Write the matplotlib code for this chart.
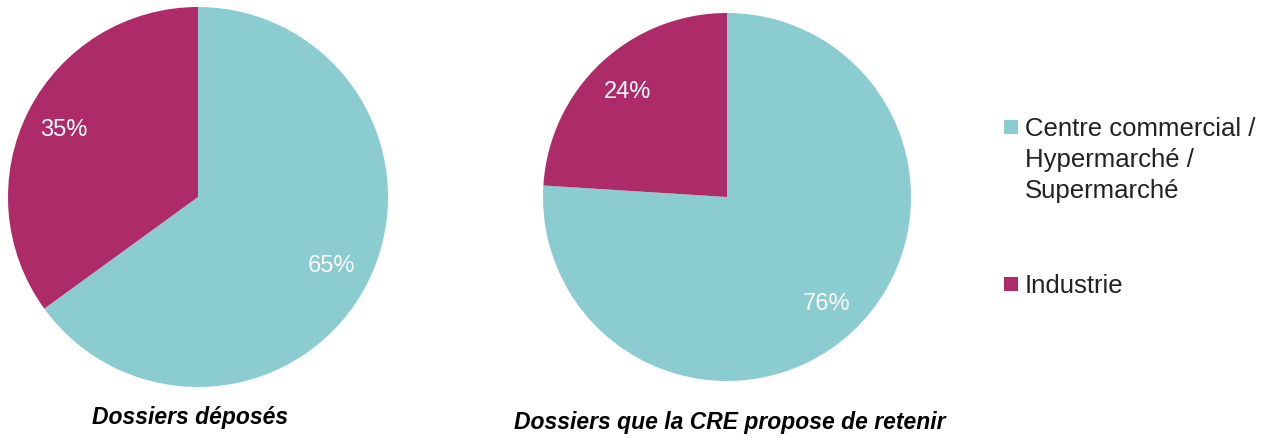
import matplotlib
matplotlib.use("Agg")
import matplotlib.pyplot as plt
from matplotlib.patches import Rectangle

# data
categories = ["Centre commercial /\nHypermarché /\nSupermarché", "Industrie"]
deposes = [65, 35]
retenus = [76, 24]
titles = ["Dossiers déposés", "Dossiers que la CRE propose de retenir"]
colors = ["#8ACCD0", "#AE2B6A"]

W, H = 1274, 439
fig = plt.figure(figsize=(W / 100, H / 100), dpi=100)
sans = ["Liberation Sans", "DejaVu Sans"]

def pie_axes(cx, cy, r):
    return fig.add_axes([(cx - r) / W, (H - cy - r) / H, 2 * r / W, 2 * r / H])

ax1 = pie_axes(198, 198, 190)
ax2 = pie_axes(727, 198, 184)

for ax, vals in [(ax1, deposes), (ax2, retenus)]:
    w, _, autotexts = ax.pie(vals, colors=colors, startangle=90, counterclock=False,
                             autopct="%d%%", pctdistance=0.79, radius=1,
                             wedgeprops=dict(linewidth=0))
    for t in autotexts:
        t.set_color("white")
        t.set_fontsize(17)
        t.set_family(sans)
    ax.set_xlim(-1, 1)
    ax.set_ylim(-1, 1)
    ax.axis("off")

title_font = dict(fontsize=16.5, fontweight="bold", style="italic",
                  family=["Liberation Sans Narrow", "Liberation Sans", "DejaVu Sans"])
fig.text(190 / W, 1 - 418 / H, titles[0], ha="center", va="center", **title_font)
fig.text(730 / W, 1 - 423 / H, titles[1], ha="center", va="center", **title_font)

# legend drawn by hand so the square sits on the first line
leg_y = [128, 285]
for lab, col, y in zip(categories, colors, leg_y):
    fig.patches.append(Rectangle((1004 / W, 1 - (y + 7) / H), 14 / W, 14 / H,
                                 transform=fig.transFigure, facecolor=col, edgecolor="none"))
    fig.text(1025 / W, 1 - (y - 11) / H, lab, ha="left", va="top", fontsize=18.5,
             family=sans, color="#222222", linespacing=1.38)

fig.savefig("out.png", dpi=100, facecolor="white")
